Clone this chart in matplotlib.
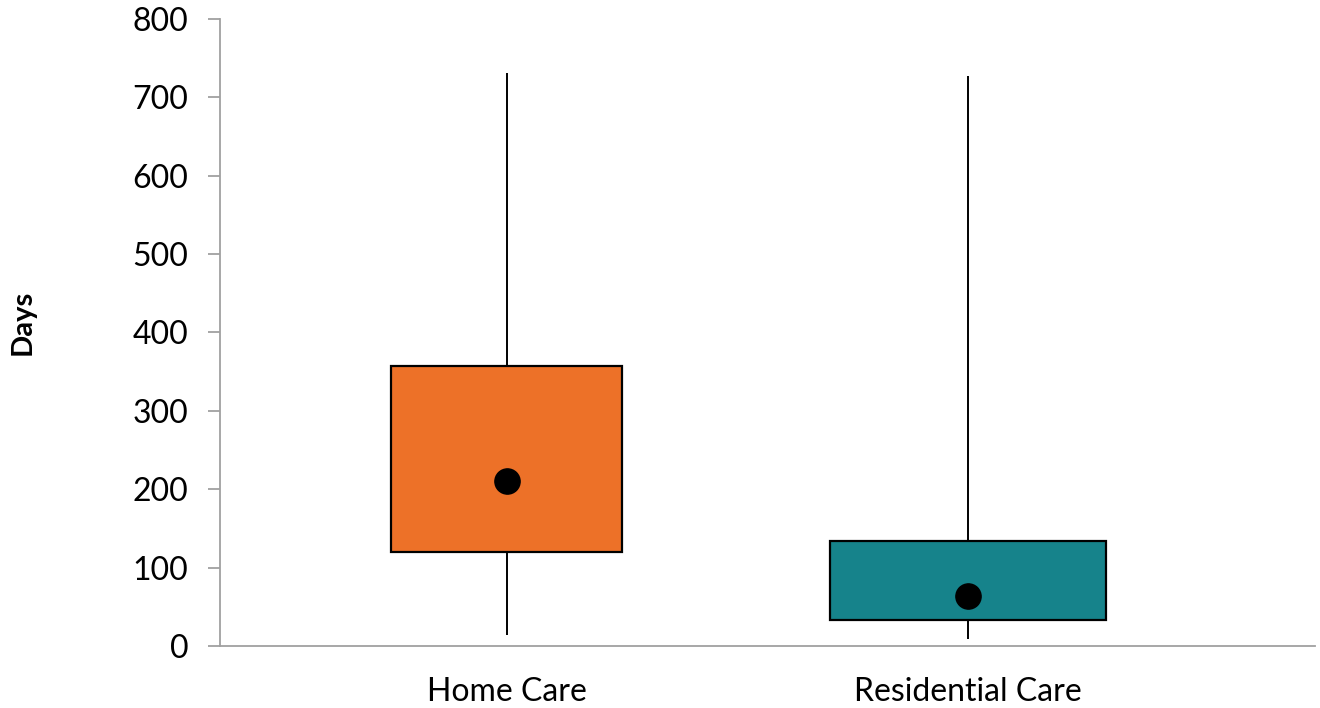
import matplotlib
matplotlib.use("Agg")
import matplotlib.pyplot as plt
import numpy as np

# data
categories = ["Home Care", "Residential Care"]
q1 = [120, 33]
q3 = [357, 134]
whisk_lo = [14, 9]
whisk_hi = [731, 727]
means = [210, 64]
box_colors = ["#ED7128", "#16838B"]
box_widths = [0.50, 0.60]
y_ticks = [0, 100, 200, 300, 400, 500, 600, 700, 800]

plt.rcParams["font.family"] = ["Lato", "DejaVu Sans"]

fig = plt.figure(figsize=(13.2, 7.08), dpi=100)
ax = fig.add_axes([220 / 1320, 62 / 708, 1095 / 1320, 627.2 / 708])

x = np.arange(len(categories))

# whiskers first, boxes drawn over them
ax.vlines(x, whisk_lo, whisk_hi, color="black", linewidth=1.4, zorder=1)
ax.bar(x, np.array(q3) - np.array(q1), bottom=q1, width=box_widths,
       color=box_colors, edgecolor="black", linewidth=1.6, zorder=2)
ax.scatter(x, means, s=330, color="black", zorder=3)

ax.set_xlim(-0.621, 1.752)
ax.set_ylim(0, 800)
ax.set_yticks(y_ticks)
ax.set_xticks(x)
ax.set_xticklabels(categories, fontsize=23)
ax.tick_params(axis="y", labelsize=23, length=8.6, width=1.3, color="#A0A0A0", pad=14)
ax.tick_params(axis="x", length=0, pad=22)

for side in ["top", "right"]:
    ax.spines[side].set_visible(False)
for side in ["left", "bottom"]:
    ax.spines[side].set_color("#A0A0A0")
    ax.spines[side].set_linewidth(1.3)

fig.text(23 / 1320, 1 - 322 / 708, "Days", rotation=90, fontsize=21,
         fontweight="bold", ha="center", va="center")

fig.savefig("out.png", dpi=100)
